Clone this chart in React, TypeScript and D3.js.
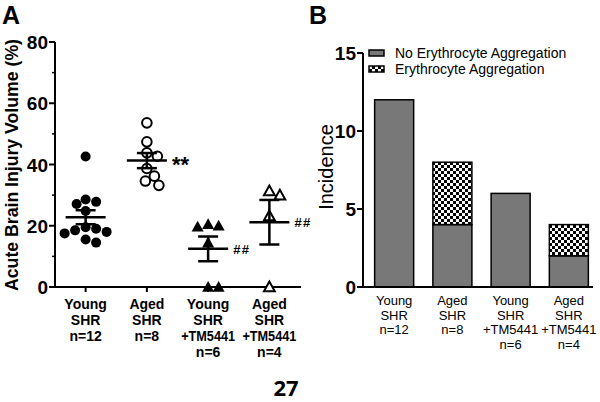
import React from "react"
import * as d3 from "d3"

// panel A: acute brain injury volume (%)
const groups = ["Young SHR n=12", "Aged SHR n=8", "Young SHR +TM5441 n=6", "Aged SHR +TM5441 n=4"]
const groupLines = [
  ["Young", "SHR", "n=12"],
  ["Aged", "SHR", "n=8"],
  ["Young", "SHR", "+TM5441", "n=6"],
  ["Aged", "SHR", "+TM5441", "n=4"]
]
const youngShr = [42.6, 28.6, 27.8, 27.1, 24.8, 19.5, 19.0, 18.5, 18.0, 17.5, 15.5, 14.5]
const agedShr = [53.6, 47.4, 43.8, 42.7, 38.7, 36.2, 34.6, 33.2]
const youngTm = [20.5, 20.0, 19.7, 14.5, 0, 0]
const agedTm = [31.4, 30.0, 23.2, 0]
const markers = ["circleFilled", "circleOpen", "triFilled", "triOpen"]
const signif = ["", "**", "##", "##"]
const yTicksA = [0, 20, 40, 60, 80]
const yMinorA = [10, 30, 50, 70]

// panel B: incidence
const noAgg = [12, 4, 6, 2]
const agg = [0, 4, 0, 2]
const yTicksB = [0, 5, 10, 15]
const legendLabels = ["No Erythrocyte Aggregation", "Erythrocyte Aggregation"]

const font = "'Liberation Sans', Arial, sans-serif"

function swarm(values: number[], y: (v: number) => number, r: number) {
  const order = values.map((v, i) => i).sort((a, b) => values[b] - values[a])
  const placed: { x: number; y: number }[] = []
  const out: number[] = new Array(values.length).fill(0)
  for (const i of order) {
    const py = y(values[i])
    let k = 0
    let dx = 0
    while (true) {
      dx = k === 0 ? 0 : (k % 2 === 1 ? 1 : -1) * Math.ceil(k / 2) * 1.5
      if (placed.every(p => Math.hypot(p.x - dx, p.y - py) >= 2 * r)) break
      k++
    }
    placed.push({ x: dx, y: py })
    out[i] = dx
  }
  return out
}

function Marker({ kind, x, y }: { kind: string; x: number; y: number }) {
  if (kind === "circleFilled") return <circle cx={x} cy={y} r={5} fill="#000" />
  if (kind === "circleOpen") return <circle cx={x} cy={y} r={4.8} fill="#fff" stroke="#000" strokeWidth={2} />
  const s = 6
  const pts = `${x},${y - s} ${x - s},${y + s * 0.8} ${x + s},${y + s * 0.8}`
  if (kind === "triFilled") return <polygon points={pts} fill="#000" />
  const s2 = 5.4
  const pts2 = `${x},${y - s2} ${x - s2},${y + s2 * 0.8} ${x + s2},${y + s2 * 0.8}`
  return <polygon points={pts2} fill="#fff" stroke="#000" strokeWidth={2} />
}

function PanelA() {
  const series = [youngShr, agedShr, youngTm, agedTm]
  const x = d3.scalePoint<string>().domain(groups).range([55, 300]).padding(0.5)
  const y = d3.scaleLinear().domain([0, 80]).range([287, 42])
  return (
    <g>
      <text x={2} y={24} fontFamily={font} fontWeight="bold" fontSize={25}>A</text>
      <text transform={`translate(18,165) rotate(-90)`} textAnchor="middle" fontFamily={font} fontWeight="bold" fontSize={18}
        textLength={252} lengthAdjust="spacingAndGlyphs">
        Acute Brain Injury Volume (%)
      </text>
      <line x1={55} x2={55} y1={y(80)} y2={y(0)} stroke="#000" strokeWidth={2} />
      <line x1={55} x2={301} y1={y(0)} y2={y(0)} stroke="#000" strokeWidth={2} />
      {yTicksA.map(t => (
        <g key={t}>
          <line x1={49} x2={55} y1={y(t)} y2={y(t)} stroke="#000" strokeWidth={2} />
          <text x={48} y={y(t) + 7} textAnchor="end" fontFamily={font} fontWeight="bold" fontSize={19}>{t}</text>
        </g>
      ))}
      {yMinorA.map(t => (
        <line key={t} x1={52} x2={55} y1={y(t)} y2={y(t)} stroke="#000" strokeWidth={1.5} />
      ))}
      {groups.map((g, gi) => {
        const cx = x(g) as number
        const vals = series[gi]
        const offs = swarm(vals, y, 5)
        const m = d3.mean(vals) as number
        const sem = (d3.deviation(vals) as number) / Math.sqrt(vals.length)
        return (
          <g key={g}>
            <line x1={cx} x2={cx} y1={y(0)} y2={y(0) + 5} stroke="#000" strokeWidth={2} />
            {groupLines[gi].map((l, li) => (
              <text key={li} x={cx} y={309 + li * 16} textAnchor="middle" fontFamily={font} fontWeight="bold" fontSize={14}
                {...(l.length > 5 ? { textLength: 54, lengthAdjust: "spacingAndGlyphs" } : {})}>{l}</text>
            ))}
            {vals.map((v, i) => (
              <Marker key={i} kind={markers[gi]} x={cx + offs[i]} y={y(v)} />
            ))}
            <line x1={cx - 20} x2={cx + 20} y1={y(m)} y2={y(m)} stroke="#000" strokeWidth={2.5} />
            <line x1={cx} x2={cx} y1={y(m - sem)} y2={y(m + sem)} stroke="#000" strokeWidth={2.5} />
            <line x1={cx - 10} x2={cx + 10} y1={y(m + sem)} y2={y(m + sem)} stroke="#000" strokeWidth={2.5} />
            <line x1={cx - 10} x2={cx + 10} y1={y(m - sem)} y2={y(m - sem)} stroke="#000" strokeWidth={2.5} />
            {signif[gi] && (
              <text x={cx + 25} y={y(m) + (signif[gi] === "**" ? 11 : 5)} fontFamily={font} fontWeight="bold"
                fontSize={signif[gi] === "**" ? 22 : 13} letterSpacing={signif[gi] === "##" ? 1.5 : 0}>{signif[gi]}</text>
            )}
          </g>
        )
      })}
    </g>
  )
}

function PanelB() {
  const x = d3.scaleBand<string>().domain(groups).range([363, 600]).paddingInner(0.33).paddingOuter(0.2)
  const y = d3.scaleLinear().domain([0, 15]).range([287, 53])
  const stack = d3.stack<number>().keys(["no", "agg"]).value((i, k) => (k === "no" ? noAgg[i] : agg[i]))(
    noAgg.map((_, i) => i)
  )
  const fills = ["#787878", "url(#checker)"]
  return (
    <g>
      <defs>
        <pattern id="checker" width={6} height={6} patternUnits="userSpaceOnUse">
          <rect width={6} height={6} fill="#fff" />
          <rect width={3} height={3} fill="#000" />
          <rect x={3} y={3} width={3} height={3} fill="#000" />
        </pattern>
      </defs>
      <text x={309} y={24} fontFamily={font} fontWeight="bold" fontSize={25}>B</text>
      <text transform={`translate(333,167) rotate(-90)`} textAnchor="middle" fontFamily={font} fontSize={20}>Incidence</text>
      {stack.map((layer, li) =>
        layer.map((d, i) =>
          d[1] > d[0] ? (
            <rect key={`${li}-${i}`} x={x(groups[i])} width={x.bandwidth()} y={y(d[1])} height={y(d[0]) - y(d[1])}
              fill={fills[li]} stroke="#000" strokeWidth={1.5} />
          ) : null
        )
      )}
      <line x1={363} x2={363} y1={y(15)} y2={y(0)} stroke="#000" strokeWidth={2} />
      <line x1={363} x2={593} y1={y(0)} y2={y(0)} stroke="#000" strokeWidth={2} />
      {yTicksB.map(t => (
        <g key={t}>
          <line x1={357} x2={363} y1={y(t)} y2={y(t)} stroke="#000" strokeWidth={2} />
          <text x={356} y={y(t) + 7} textAnchor="end" fontFamily={font} fontWeight="bold" fontSize={19}>{t}</text>
        </g>
      ))}
      {groups.map((g, gi) => (
        <g key={g}>
          {groupLines[gi].map((l, li) => (
            <text key={li} x={(x(g) as number) + x.bandwidth() / 2} y={305 + li * 14.5} textAnchor="middle"
              fontFamily={font} fontSize={13}>{l}</text>
          ))}
        </g>
      ))}
      {legendLabels.map((l, i) => (
        <g key={l}>
          <rect x={369} y={50 + i * 16} width={15} height={6} fill={fills[i]} stroke="#000" strokeWidth={1.5} />
          <text x={395} y={58 + i * 16} fontFamily={font} fontSize={14}>{l}</text>
        </g>
      ))}
    </g>
  )
}

export default function App() {
  return (
    <svg width={600} height={402} style={{ position: "absolute", left: 0, top: 0, background: "#fff" }}>
      <rect width={600} height={402} fill="#fff" />
      <PanelA />
      <PanelB />
      <text x={286} y={396} textAnchor="middle" fontFamily="'Open Sans', 'Noto Sans', sans-serif" fontWeight="bold" fontSize={22}>27</text>
    </svg>
  )
}
